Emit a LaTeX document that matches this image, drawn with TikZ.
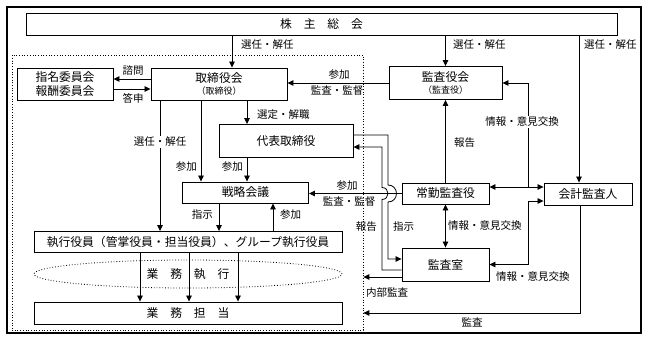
\documentclass[tikz,border=0pt]{standalone}
\usepackage{fontspec}
\setmainfont{Noto Sans CJK JP}
\usepackage{tikz}
\usetikzlibrary{arrows.meta,positioning,calc,shapes.geometric}
\definecolor{ink}{HTML}{000000}

\begin{document}
\begin{tikzpicture}[x=1pt,y=-1pt,
    box/.style={draw=ink,line width=0.9pt,text=ink,inner sep=1pt,
      font=\fontsize{11.8}{14}\selectfont},
    lab/.style={text=ink,inner sep=1pt,font=\fontsize{10.5}{12}\selectfont},
    arr/.style={draw=ink,line width=0.8pt,-{Triangle[length=6pt,width=5.5pt]}},
    dbl/.style={draw=ink,line width=0.8pt,
      {Triangle[length=6pt,width=5.5pt]}-{Triangle[length=6pt,width=5.5pt]}}]
  \useasboundingbox (0,0) rectangle (648,340);
  \draw[ink,line width=1.4pt] (7,7) rectangle (641,333);
  \node[draw=ink,dotted,line width=0.7pt,inner sep=0pt,
    minimum width=351pt,minimum height=275pt] (exec) at (187.5,192.5) {};

  \node[box,minimum width=591pt,minimum height=22pt] (soukai) at (321.5,24)
    {株　主　総　会};
  \node[box,align=center,minimum width=96pt,minimum height=32pt] (iinkai)
    at (65,84) {指名委員会\\報酬委員会};
  \node[box,align=center,minimum width=136pt,minimum height=32pt] (torikai)
    at (219,84) {取締役会\\[-2pt]{\fontsize{9}{10}\selectfont （取締役）}};
  \node[box,minimum width=134pt,minimum height=33pt] (daihyo) at (286,141)
    {代表取締役};
  \node[box,minimum width=126pt,minimum height=21pt] (senryaku)
    at (245.5,192.5) {戦略会議};
  \node[box,minimum width=308pt,minimum height=21pt] (shikkou) at (188,242)
    {執行役員（管掌役員・担当役員）、グループ執行役員};
  \node[draw=ink,dotted,line width=0.8pt,ellipse,inner sep=0pt,text=ink,
    font=\fontsize{11.8}{14}\selectfont,minimum width=308pt,
    minimum height=28pt] (gyoumu) at (188,274) {業　務　執　行};
  \node[box,minimum width=308pt,minimum height=22pt] (tantou) at (188,313)
    {業　務　担　当};

  \node[box,align=center,minimum width=113pt,minimum height=33pt]
    (kansayakukai) at (445.5,83)
    {監査役会\\[-2pt]{\fontsize{9}{10}\selectfont （監査役）}};
  \node[box,minimum width=87pt,minimum height=21pt] (joukin)
    at (445.5,193.5) {常勤監査役};
  \node[box,minimum width=88pt,minimum height=22pt] (kaikei) at (588,194)
    {会計監査人};
  \node[box,minimum width=87pt,minimum height=33pt] (kansashitsu)
    at (445.5,264.5) {監査室};
  \coordinate (jx) at (528,187);
  \coordinate (shiji) at (388,193.5);
  \coordinate (houkoku) at (382,193.5);

  \draw[arr] ([xshift=13pt]torikai.north |- soukai.south)
    -- ([xshift=13pt]torikai.north);
  \draw[arr] (kansayakukai.north |- soukai.south) -- (kansayakukai.north);
  \draw[arr] ([xshift=-9pt]kaikei.north |- soukai.south)
    -- ([xshift=-9pt]kaikei.north);
  \draw[arr] ([yshift=5pt]torikai.west) -- ([yshift=5pt]iinkai.east);
  \draw[arr] ([yshift=-5pt]iinkai.east) -- ([yshift=-5pt]torikai.west);
  \draw[arr] ([xshift=-59pt]torikai.south)
    -- ([xshift=-59pt]torikai.south |- shikkou.north);
  \draw[arr] ([xshift=-18pt]torikai.south)
    -- ([xshift=-18pt]torikai.south |- senryaku.north);
  \draw[arr] ([xshift=28pt]torikai.south)
    -- ([xshift=28pt]torikai.south |- daihyo.north);
  \draw[arr] ([xshift=-39pt]daihyo.south)
    -- ([xshift=-39pt]daihyo.south |- senryaku.north);
  \draw[arr] ([xshift=-26.5pt]senryaku.south)
    -- ([xshift=-26.5pt]senryaku.south |- shikkou.north);
  \draw[arr] ([xshift=27.5pt]senryaku.south |- shikkou.north)
    -- ([xshift=27.5pt]senryaku.south);
  \foreach \dx in {-48,1,50}
    \draw[arr] ([xshift=\dx pt]shikkou.south) -- ([xshift=\dx pt]tantou.north);

  \draw[arr] (kansayakukai.west) -- (kansayakukai.west -| torikai.east);
  \draw[arr] (joukin.north) -- (kansayakukai.south);
  \draw[dbl] ([yshift=6.5pt]joukin.east) -- ([yshift=6.5pt]joukin.east -| kaikei.west);
  \draw[arr] (jx) |- (kansayakukai.east);
  \draw[dbl] (kansashitsu.east) -- (kansashitsu.east -| jx)
    |- ([yshift=-7pt]kaikei.west);
  \draw[dbl] (joukin.south) -- (kansashitsu.north);
  \draw[arr] (joukin.west) -- (joukin.west -| senryaku.east);
  \draw[arr] ([yshift=6pt]daihyo.east) -| ([yshift=8.5pt]shiji)
    to[out=0,in=0,looseness=1.7] ([yshift=-8.5pt]shiji)
    |- ([yshift=5.5pt]kansashitsu.west);
  \draw[arr] ([yshift=-5.5pt]kansashitsu.west) -| ([yshift=-6pt]houkoku)
    to[out=0,in=0,looseness=1.7] ([yshift=6pt]houkoku)
    |- ([yshift=-6pt]daihyo.east);
  \draw[arr] ([yshift=-12.5pt]kansashitsu.west)
    -- ([yshift=-12.5pt]kansashitsu.west -| exec.east);
  \draw[arr] ([xshift=-8pt]kaikei.south) |- (exec.east |- tantou.east);

  \node[lab,anchor=west] (sen1) at (240,45) {選任・解任};
  \node[lab,anchor=west] (sen2) at (452,45) {選任・解任};
  \node[lab,anchor=west] (sen3) at (583,45) {選任・解任};
  \node[lab] (shimon) at (133,71) {諮問};
  \node[lab] (toushin) at (133,98) {答申};
  \node[lab,fill=white] (sen4) at (160,142) {選任・解任};
  \node[lab,anchor=east] (sanka1) at (198,167) {参加};
  \node[lab,anchor=east] (sanka2) at (244,167) {参加};
  \node[lab,anchor=west] (sentei) at (256,115) {選定・解職};
  \node[lab,anchor=east] (shiji1) at (214,215) {指示};
  \node[lab,anchor=west] (sanka3) at (279,215) {参加};
  \node[lab] (sanka4) at (339,75) {参加};
  \node[lab] (kantoku1) at (337,91) {監査・監督};
  \node[lab,anchor=west] (hou1) at (453,143) {報告};
  \node[lab,fill=white] (jouhou1) at (522,122) {情報・意見交換};
  \node[lab] (sanka5) at (347,186) {参加};
  \node[lab] (kantoku2) at (349,202) {監査・監督};
  \node[lab,anchor=east] (hou2) at (378,227) {報告};
  \node[lab,anchor=west] (shiji2) at (392,227) {指示};
  \node[lab,anchor=west] (jouhou2) at (447,226) {情報・意見交換};
  \node[lab,anchor=west] (jouhou3) at (495,277) {情報・意見交換};
  \node[lab,anchor=west] (naibu) at (365,293) {内部監査};
  \node[lab] (kansa) at (472,322) {監査};
\end{tikzpicture}
\end{document}
